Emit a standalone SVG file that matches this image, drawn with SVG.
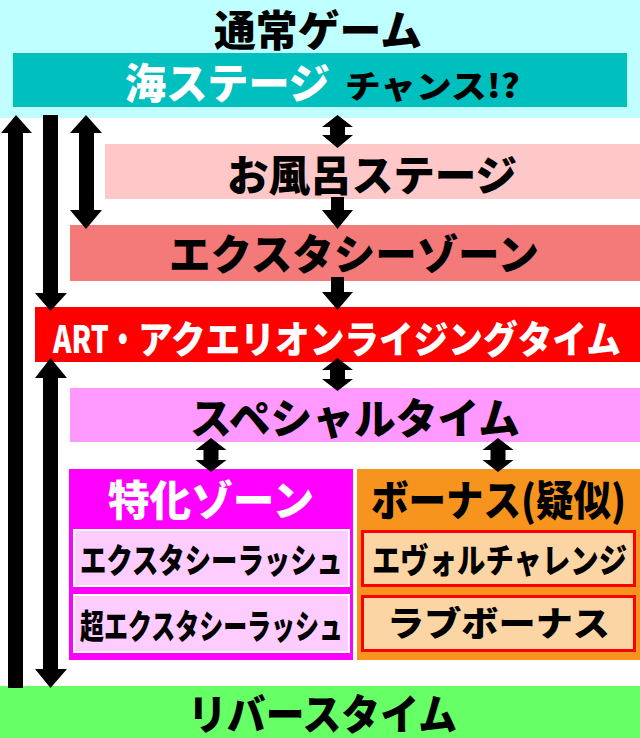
<svg xmlns="http://www.w3.org/2000/svg" width="640" height="738" viewBox="0 0 640 738">
<style>
text{font-family:"Noto Sans CJK JP","Noto Sans CJK SC",sans-serif;font-weight:900;dominant-baseline:central;text-anchor:middle;fill:#000}
.w{fill:#fff}
.st{text-anchor:start}
.big{font-size:42px}
.mid{font-size:38px}
.sm{font-size:34px}
.arrow{fill:#000}
</style>
<rect x="0" y="0" width="640" height="738" fill="#fff"/>
<g id="normal-game">
<rect x="0" y="0" width="640" height="118" fill="#c0ffff"/>
<text class="big" x="318" y="27" textLength="208" lengthAdjust="spacingAndGlyphs">通常ゲーム</text>
</g>
<g id="sea-stage">
<rect x="13" y="53" width="614" height="54" fill="#00bfbf"/>
<text class="big w st" x="125" y="80" textLength="205" lengthAdjust="spacingAndGlyphs">海ステージ</text>
<text class="st" x="345" y="84" style="font-size:32px" textLength="175" lengthAdjust="spacingAndGlyphs">チャンス!?</text>
</g>
<g id="bath-stage">
<rect x="105" y="144" width="535" height="55" fill="#ffc8c8"/>
<text class="big" x="372" y="172" textLength="290" lengthAdjust="spacingAndGlyphs">お風呂ステージ</text>
</g>
<g id="ecstasy-zone">
<rect x="70" y="225" width="570" height="56" fill="#f47a7a"/>
<text class="big" x="354" y="251" textLength="370" lengthAdjust="spacingAndGlyphs">エクスタシーゾーン</text>
</g>
<g id="art">
<rect x="35" y="307" width="605" height="55" fill="#ff0000"/>
<text class="mid w st" x="53" y="336" textLength="84" lengthAdjust="spacingAndGlyphs">ART・</text>
<text class="mid w st" x="138" y="336" textLength="483" lengthAdjust="spacingAndGlyphs">アクエリオンライジングタイム</text>
</g>
<g id="special-time">
<rect x="70" y="388" width="570" height="54" fill="#ff99ff"/>
<text class="big" x="355" y="415" textLength="330" lengthAdjust="spacingAndGlyphs">スペシャルタイム</text>
</g>
<g id="special-zone">
<rect x="69" y="469" width="284" height="191" fill="#ff00ff"/>
<text class="big w" x="211" y="497" textLength="206" lengthAdjust="spacingAndGlyphs">特化ゾーン</text>
</g>
<g id="ecstasy-rush">
<rect x="74" y="530" width="275" height="56" fill="#ffccff" stroke="#fff" stroke-width="2"/>
<text class="sm" x="211.5" y="558" textLength="263" lengthAdjust="spacingAndGlyphs">エクスタシーラッシュ</text>
</g>
<g id="super-ecstasy-rush">
<rect x="74" y="595" width="275" height="57" fill="#ffccff" stroke="#fff" stroke-width="2"/>
<text class="sm" x="211.5" y="624" textLength="263" lengthAdjust="spacingAndGlyphs">超エクスタシーラッシュ</text>
</g>
<g id="bonus">
<rect x="357" y="469" width="283" height="191" fill="#f7941d"/>
<text class="big" x="498.5" y="497" textLength="255" lengthAdjust="spacingAndGlyphs">ボーナス(疑似)</text>
</g>
<g id="evol-challenge">
<rect x="362.5" y="531.5" width="272" height="54" fill="#fcd5a4" stroke="#ff0000" stroke-width="3"/>
<text class="sm" x="499.5" y="558" textLength="255" lengthAdjust="spacingAndGlyphs">エヴォルチャレンジ</text>
</g>
<g id="love-bonus">
<rect x="362.5" y="596.5" width="272" height="54" fill="#fcd5a4" stroke="#ff0000" stroke-width="3"/>
<text class="sm" x="498.5" y="621" textLength="223" lengthAdjust="spacingAndGlyphs">ラブボーナス</text>
</g>
<g id="reverse-time">
<rect x="0" y="686" width="640" height="52" fill="#66ff66"/>
<text class="big" x="322.5" y="711" textLength="269" lengthAdjust="spacingAndGlyphs">リバースタイム</text>
</g>
<g id="connectors" class="arrow">
<path d="M8,688 V133 H1 L16,115 L32,133 H23 V688 Z"/>
<path d="M43,115 H58 V293 H67 L50.5,311 L35,293 H43 Z"/>
<path d="M86,115 L102,133 H94 V210 H102 L86,229 L70,210 H79 V133 H70 Z"/>
<path d="M50.5,358 L67,378 H58 V669 H67 L50.5,688 L35,669 H43 V378 H35 Z"/>
<path d="M337.5,115 L353,127 H345 V135 H353 L337.5,148 L322,135 H330 V127 H322 Z"/>
<path d="M331,197 H344 V210 H353 L337.5,229 L322,210 H331 Z"/>
<path d="M331,277 H344 V292 H353 L337.5,310 L322,292 H331 Z"/>
<path d="M337.5,358 L353,370 H345 V379 H353 L337.5,391 L322,379 H330 V370 H322 Z"/>
<path d="M211,438 L226.5,450 H218.5 V460 H226.5 L211,472 L195.5,460 H203.5 V450 H195.5 Z"/>
<path d="M498,438 L513.5,450 H505.5 V460 H513.5 L498,472 L482.5,460 H490.5 V450 H482.5 Z"/>
</g>
</svg>
